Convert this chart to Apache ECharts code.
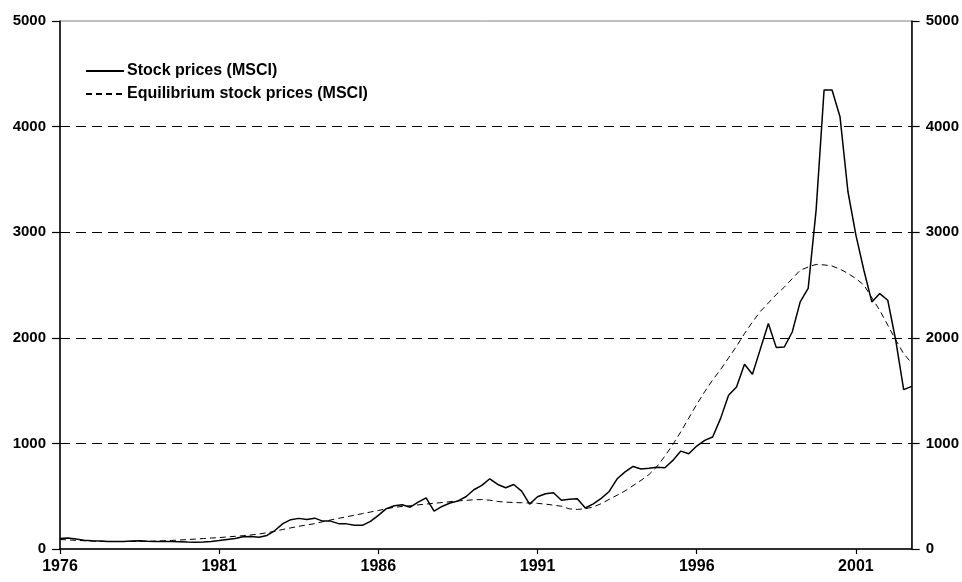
<!DOCTYPE html>
<html>
<head>
<meta charset="utf-8">
<script src="https://cdn.jsdelivr.net/npm/echarts@6/dist/echarts.min.js"></script>
<style>
  html, body { margin: 0; padding: 0; background: #fff; }
  #chart { width: 962px; height: 582px; }
</style>
</head>
<body>
<div id="chart"></div>
<script>
// Quarterly observations, 1976 Q1 to 2002 Q4
const startYear = 1976;
const endYear = 2002;
const quarters = [];
for (let y = startYear; y <= endYear; y++) {
  for (let q = 1; q <= 4; q++) quarters.push(y + 'Q' + q);
}

// MSCI stock price index
const stockPrices = [
  100, 105, 95, 82, 78, 75, 72, 70, 72, 76,
  78, 74, 72, 70, 70, 68, 66, 65, 66, 72,
  80, 90, 100, 115, 118, 112, 128, 175, 240, 278,
  290, 280, 292, 264, 264, 240, 238, 224, 224, 262,
  318, 382, 410, 419, 396, 444, 484, 358, 403, 436,
  455, 495, 561, 602, 665, 611, 580, 611, 548, 425,
  495, 523, 532, 462, 470, 476, 388, 428, 480, 545,
  665, 730, 782, 758, 765, 775, 770, 839, 927, 902,
  975, 1029, 1060, 1237, 1455, 1534, 1749, 1654, 1895, 2135,
  1907, 1913, 2055, 2340, 2467, 3209, 4347, 4347, 4094, 3383,
  2972, 2640, 2340, 2419, 2356, 1977, 1509, 1540
];

// Equilibrium level of the MSCI index
const equilibriumPrices = [
  90, 86, 82, 78, 75, 73, 72, 71, 71, 72,
  72, 73, 75, 78, 81, 85, 89, 94, 99, 104,
  108, 114, 120, 126, 133, 142, 154, 168, 185, 200,
  215, 228, 240, 258, 275, 290, 305, 320, 335, 350,
  365, 380, 395, 403, 410, 418, 425, 433, 440, 448,
  455, 461, 466, 468, 462, 450, 444, 440, 438, 436,
  432, 425, 415, 405, 380, 375, 382, 397, 430, 470,
  510, 550, 600, 650, 705, 780, 880, 990, 1110, 1240,
  1370, 1490, 1600, 1700, 1810, 1920, 2040, 2150, 2250, 2330,
  2410, 2480, 2560, 2640, 2670, 2695, 2690, 2680, 2650, 2610,
  2560, 2500, 2380, 2260, 2120, 1980, 1850, 1760
];

const seriesNames = ['Stock prices (MSCI)', 'Equilibrium stock prices (MSCI)'];
const yMin = 0, yMax = 5000, yStep = 1000;

const fontFamily = 'Arial, "Liberation Sans", sans-serif';
const axisLabelStyle = {
  color: '#000', fontWeight: 'bold', fontSize: 15, fontFamily: fontFamily,
  formatter: (v) => String(v)
};

const chart = echarts.init(document.getElementById('chart'), null, { renderer: 'canvas' });

chart.setOption({
  animation: false,
  backgroundColor: '#fff',
  grid: {
    left: 60, right: 50, top: 21, bottom: 33,
    show: true, borderColor: '#808080', borderWidth: 1, backgroundColor: 'transparent'
  },
  legend: {
    orient: 'vertical',
    left: 80, top: 58,
    itemWidth: 38, itemHeight: 14, itemGap: 7,
    data: seriesNames,
    itemStyle: { opacity: 0 },
    textStyle: { color: '#000', fontWeight: 'bold', fontSize: 16, fontFamily: fontFamily, padding: [0, 0, 0, -2] }
  },
  xAxis: {
    type: 'category',
    data: quarters,
    boundaryGap: false,
    axisLine: { lineStyle: { color: '#000', width: 1.5 } },
    axisTick: { show: true, interval: 19, length: 5, lineStyle: { color: '#000', width: 1.2 } },
    axisLabel: {
      ...axisLabelStyle, interval: 19, margin: 10, fontSize: 16,
      formatter: (v) => v.slice(0, 4)
    },
    splitLine: { show: false }
  },
  yAxis: [
    {
      type: 'value', position: 'left',
      min: yMin, max: yMax, interval: yStep,
      axisLine: { show: true, lineStyle: { color: '#000', width: 1.5 } },
      axisTick: { show: true, length: 8, lineStyle: { color: '#000', width: 1.2 } },
      axisLabel: { ...axisLabelStyle, margin: 14 },
      splitLine: {
        show: true,
        lineStyle: {
          color: ['transparent', '#000', '#000', '#000', '#000', 'transparent'],
          width: 1, type: [10, 6]
        }
      }
    },
    {
      type: 'value', position: 'right',
      min: yMin, max: yMax, interval: yStep,
      axisLine: { show: true, lineStyle: { color: '#000', width: 1.5 } },
      axisTick: { show: true, length: 8, lineStyle: { color: '#000', width: 1.2 } },
      axisLabel: { ...axisLabelStyle, margin: 14 },
      splitLine: { show: false }
    }
  ],
  series: [
    {
      name: seriesNames[0],
      type: 'line',
      data: stockPrices,
      showSymbol: false, symbol: 'none',
      lineStyle: { color: '#000', width: 1.5 },
      itemStyle: { color: '#000' },
      z: 3
    },
    {
      name: seriesNames[1],
      type: 'line',
      data: equilibriumPrices,
      showSymbol: false, symbol: 'none',
      lineStyle: { color: '#000', width: 1, type: [6, 4] },
      itemStyle: { color: '#000' },
      z: 2
    }
  ]
});
</script>
</body>
</html>
